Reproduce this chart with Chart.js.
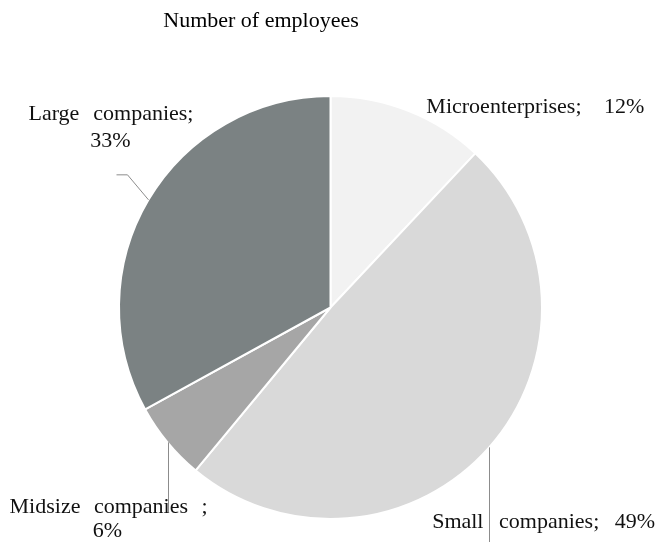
<!DOCTYPE html>
<html>
<head>
<meta charset="utf-8">
<script src="https://cdn.jsdelivr.net/npm/chart.js@4/dist/chart.umd.min.js"></script>
<style>
  html, body { margin: 0; padding: 0; background: #fff; }
  #wrap { width: 660px; height: 542px; }
</style>
</head>
<body>
<div id="wrap"><canvas id="pie"></canvas></div>
<script>
const categories = ["Microenterprises", "Small companies", "Midsize companies", "Large companies"];
const shares = [12, 49, 6, 33];
const sliceColors = ["#f2f2f2", "#d9d9d9", "#a6a6a6", "#7b8283"];
const titleText = "Number of employees";

// label text split into words so the lines can be justified like the original
const labelWords = [
  [["Microenterprises;", shares[0] + "%"]],
  [["Small", "companies;", shares[1] + "%"]],
  [["Midsize", "companies", ";"], [shares[2] + "%"]],
  [["Large", "companies;"], [shares[3] + "%"]],
];

// layout relative to the slice edge point (mid angle); w = justified width, no w = centred
const labelStyle = [
  { lines: [{ dx: 18, dy: -4, w: 218 }], leader: null },
  { lines: [{ dx: -57, dy: 75, w: 223 }], leader: [[0, 0], [0, 95]] },
  { lines: [{ dx: -158, dy: 65, w: 198 }, { dx: -60, dy: 89 }], leader: [[0, 0], [0, 70]] },
  { lines: [{ dx: -120, dy: -86, w: 165 }, { dx: -38, dy: -59 }], leader: [[0, 0], [-21, -25], [-32, -25]] },
];

function drawLine(ctx, words, x, y, w) {
  if (!w || words.length < 2) {
    ctx.textAlign = w ? "left" : "center";
    ctx.fillText(words.join(" "), x, y);
    return;
  }
  ctx.textAlign = "left";
  const used = words.reduce((s, t) => s + ctx.measureText(t).width, 0);
  const gap = (w - used) / (words.length - 1);
  let cx = x;
  words.forEach((t) => {
    ctx.fillText(t, cx, y);
    cx += ctx.measureText(t).width + gap;
  });
}

const labelPlugin = {
  id: "pieLabels",
  afterDatasetsDraw(chart) {
    const ctx = chart.ctx;
    const arcs = chart.getDatasetMeta(0).data;
    ctx.save();
    arcs.forEach((arc, i) => {
      const { x, y, startAngle, endAngle, outerRadius } = arc.getProps(["x", "y", "startAngle", "endAngle", "outerRadius"], true);
      const mid = (startAngle + endAngle) / 2;
      const ex = x + Math.cos(mid) * outerRadius;
      const ey = y + Math.sin(mid) * outerRadius;
      const st = labelStyle[i];
      if (st.leader) {
        ctx.strokeStyle = "#8c8c8c";
        ctx.lineWidth = 1;
        ctx.beginPath();
        st.leader.forEach(([px, py], k) => {
          const lx = Math.round(ex + px) + 0.5, ly = ey + py;
          if (k === 0) ctx.moveTo(lx, ly); else ctx.lineTo(lx, ly);
        });
        ctx.stroke();
      }
      ctx.fillStyle = "#111";
      ctx.font = "22px 'Liberation Serif'";
      ctx.textBaseline = "middle";
      st.lines.forEach((ln, k) => {
        drawLine(ctx, labelWords[i][k], ex + ln.dx, ey + ln.dy, ln.w);
      });
    });
    // title
    ctx.font = "22px 'Liberation Serif'";
    ctx.textAlign = "center";
    ctx.textBaseline = "middle";
    ctx.fillStyle = "#000";
    ctx.fillText(titleText, 261, 21);
    ctx.restore();
  }
};

new Chart(document.getElementById("pie"), {
  type: "pie",
  data: {
    labels: categories,
    datasets: [{
      data: shares,
      backgroundColor: sliceColors,
      borderColor: "#ffffff",
      borderWidth: 2,
    }],
  },
  options: {
    responsive: true,
    maintainAspectRatio: false,
    animation: false,
    layout: { padding: { top: 95, bottom: 22, left: 118, right: 117 } },
    plugins: {
      legend: { display: false },
      tooltip: { enabled: false },
      title: { display: false },
    },
  },
  plugins: [labelPlugin],
});
</script>
</body>
</html>
